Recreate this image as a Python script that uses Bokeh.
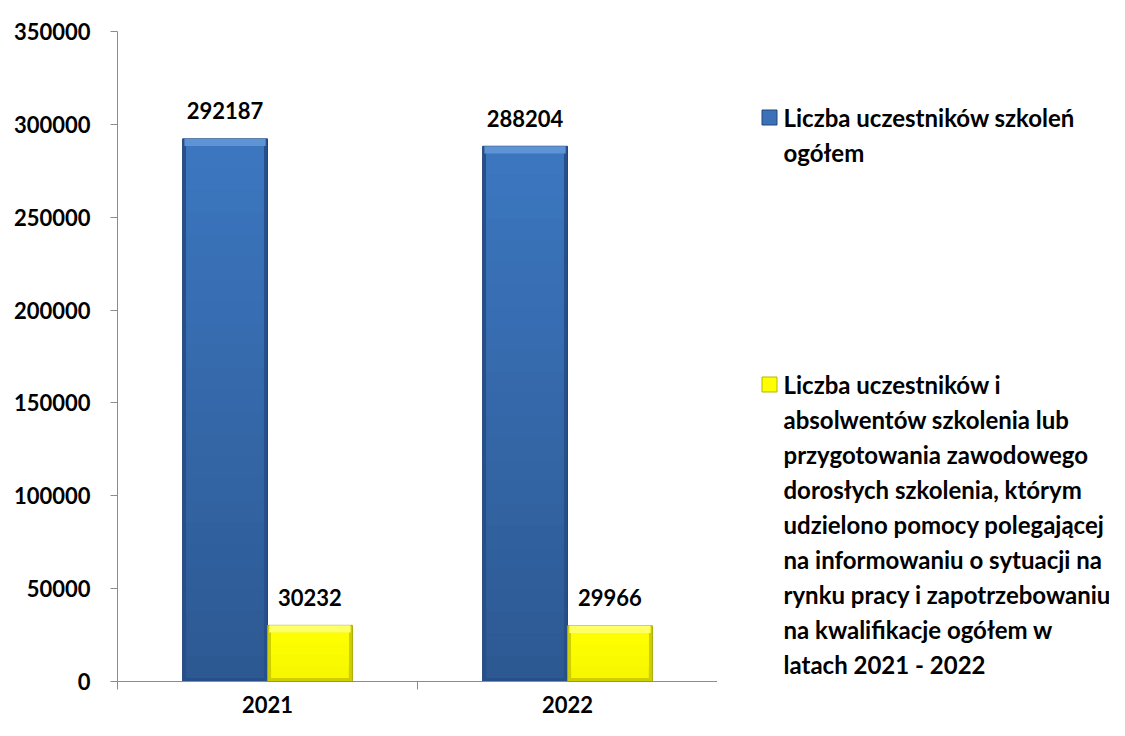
from bokeh.plotting import figure
from bokeh.layouts import row
from bokeh.models import Range1d, FixedTicker, NumeralTickFormatter
from bokeh.core.properties import value
from bokeh.embed import file_html
from bokeh.resources import INLINE

years = ["2021", "2022"]
total = [292187, 288204]
advised = [30232, 29966]
y_ticks = [0, 50000, 100000, 150000, 200000, 250000, 300000, 350000]
legend1 = ["Liczba uczestników szkoleń", "ogółem"]
legend2 = ["Liczba uczestników i", "absolwentów szkolenia lub",
           "przygotowania zawodowego", "dorosłych szkolenia, którym",
           "udzielono pomocy polegającej", "na informowaniu o sytuacji na",
           "rynku pracy i zapotrzebowaniu", "na kwalifikacje  ogółem w",
           "latach 2021 - 2022"]

FONT = "Lato"
FS = "22px"
LFS = "24px"

H = 720
TOP = 31
FRAME_H = 650
p = figure(width=717, height=H, output_backend="svg", toolbar_location=None,
           x_range=Range1d(0, 2), y_range=Range1d(0, 350000),
           min_border_left=117, min_border_right=0, min_border_top=TOP,
           min_border_bottom=H - TOP - FRAME_H)
p.outline_line_color = None
p.grid.grid_line_color = None

centers = [i + 0.5 for i in range(len(years))]
bw = 0.283
xb = [c - bw / 2 for c in centers]
xy = [c + bw / 2 for c in centers]
ymax = 350000
bev = 0.011 * ymax
side = 0.012


def mix(c1, c2, t):
    a = [int(c1[i:i + 2], 16) for i in (1, 3, 5)]
    b = [int(c2[i:i + 2], 16) for i in (1, 3, 5)]
    return "#%02x%02x%02x" % tuple(round(a[k] + (b[k] - a[k]) * t) for k in range(3))


def bevel_bar(xs, vals, top_c, bot_c, edge_c, light_c, line_c, n=24):
    # dark frame (sides/bottom bevel)
    p.vbar(x=xs, top=vals, width=bw, fill_color=edge_c, line_color=line_c, line_width=1)
    # vertical gradient body (overlapping bands, bottom to top)
    for k in range(n):
        f0 = k / n
        col = mix(bot_c, top_c, (k + 0.5) / n)
        p.vbar(x=xs, bottom=[bev * 0.5 + (v - bev * 1.5) * f0 for v in vals],
               top=[v - bev * 1.0 for v in vals],
               width=bw - 2 * side, fill_color=col, line_color=None)
    # light top bevel
    p.vbar(x=xs, top=vals, bottom=[v - bev for v in vals], width=bw - side,
           fill_color=light_c, line_color=None)


bevel_bar(xb, total, "#3C77C0", "#2D5892", "#27508A", "#5E93D4", "#22467A")
bevel_bar(xy, advised, "#FFFF00", "#F6F600", "#CFCF00", "#FFFF66", "#A8A800", n=4)

# value labels
for xs, vals in ((xb, total), (xy, advised)):
    p.text(x=xs, y=vals, text=[str(v) for v in vals], text_font=value(FONT),
           text_font_style="bold", text_font_size=FS, text_align="center",
           text_baseline="middle", y_offset=-28, text_color="black")

# axes
p.yaxis.ticker = FixedTicker(ticks=y_ticks)
p.yaxis.formatter = NumeralTickFormatter(format="0")
p.yaxis.axis_line_color = "#8C8C8C"
p.yaxis.major_tick_line_color = "#8C8C8C"
p.yaxis.major_tick_out = 7
p.yaxis.major_tick_in = 0
p.yaxis.minor_tick_line_color = None
p.yaxis.major_label_text_font = FONT
p.yaxis.major_label_text_font_style = "bold"
p.yaxis.major_label_text_font_size = FS
p.yaxis.major_label_text_color = "black"
p.yaxis.major_label_standoff = 20

p.xaxis.ticker = FixedTicker(ticks=centers, minor_ticks=[0, 1, 2])
p.xaxis.major_label_overrides = {c: y for c, y in zip(centers, years)}
p.xaxis.axis_line_color = "#8C8C8C"
p.xaxis.major_tick_line_color = None
p.xaxis.minor_tick_line_color = "#8C8C8C"
p.xaxis.minor_tick_out = 8
p.xaxis.minor_tick_in = 0
p.xaxis.major_label_text_font = FONT
p.xaxis.major_label_text_font_style = "bold"
p.xaxis.major_label_text_font_size = FS
p.xaxis.major_label_text_color = "black"
p.xaxis.major_label_standoff = 6

# legend panel: its frame is aligned with the chart frame; coordinates in pixels
LW = 1109 - 717
lg = figure(width=LW, height=H, output_backend="svg", toolbar_location=None,
            x_range=Range1d(0, LW), y_range=Range1d(TOP + FRAME_H, TOP),
            min_border_left=0, min_border_right=0, min_border_top=TOP,
            min_border_bottom=H - TOP - FRAME_H, x_axis_type=None, y_axis_type=None)
lg.outline_line_color = None
lg.grid.grid_line_color = None


def add_item(color, edge, cy, lines):
    lg.rect(x=[52], y=[cy], width=15, height=15, fill_color=color, line_color=edge,
            line_width=1)
    lg.text(x=[66] * len(lines), y=[cy + 35 * i for i in range(len(lines))], text=lines,
            text_font=value(FONT), text_font_style="bold", text_font_size=LFS,
            text_baseline="middle", text_color="black")


add_item("#3A71B7", "#24497A", 117, legend1)
add_item("#FFFF00", "#B5B500", 384, legend2)

layout = row(p, lg, spacing=0)
open("out.html", "w").write(file_html(layout, INLINE))
